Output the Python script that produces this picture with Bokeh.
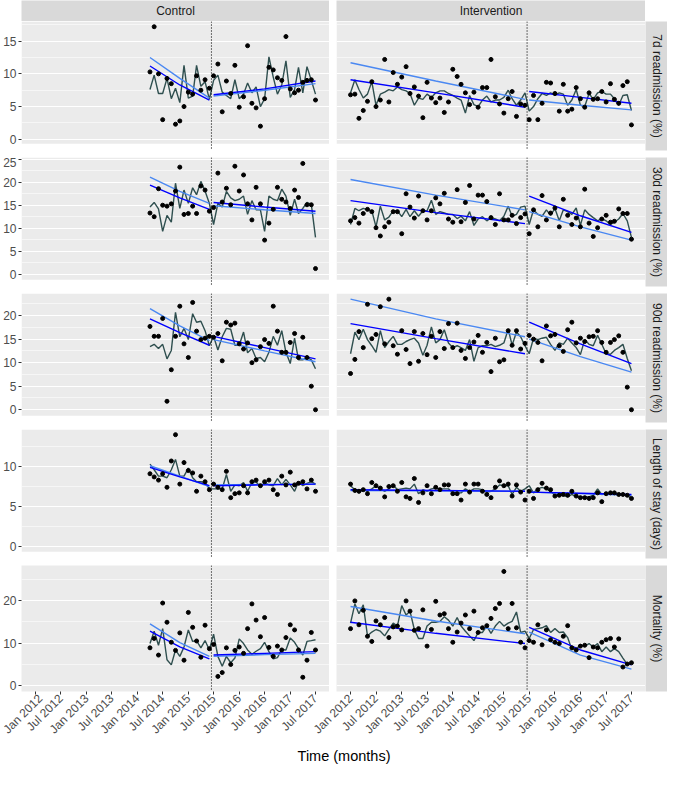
import numpy as np
import pandas as pd
from math import pi
from bokeh.plotting import figure
from bokeh.models import (Range1d, FixedTicker, LinearAxis, DatetimeAxis, GridBox, BoxAnnotation,
                          DatetimeTickFormatter, Grid, Span, ColumnDataSource)
from bokeh.core.properties import value
from bokeh.embed import file_html
from bokeh.resources import INLINE

FONT = "Liberation Sans"

# ---------------- data ----------------
groups = ["Control", "Intervention"]
outcomes = ["7d readmission (%)", "30d readmission (%)", "90d readmission (%)",
            "Length of stay (days)", "Mortality (%)"]
x_tick_labels = ["Jan 2012", "Jul 2012", "Jan 2013", "Jul 2013", "Jan 2014", "Jul 2014",
                 "Jan 2015", "Jul 2015", "Jan 2016", "Jul 2016", "Jan 2017", "Jul 2017"]
x_title = "Time (months)"
intervention_date = "2015-06-16"
ctrl_start, ctrl_end = "2014-04-01", "2017-07-01"
int_start, int_end = "2012-01-01", "2017-07-01"

# observed monthly values (points)
ctrl_obs_7d = [10.3, 17.2, 10.0, 3.0, 9.3, 8.5, 2.3, 2.8, 5.0, 7.2, 6.9, 9.7, 7.5, 9.1, 7.8, 9.7,
               11.5, 4.2, 8.9, 7.0, 11.3, 4.9, 6.5, 14.3, 5.5, 4.8, 2.0, 6.2, 11.0, 10.6, 9.4, 9.0,
               15.7, 7.7, 7.1, 7.5, 8.7, 9.0, 9.1, 6.0]
int_obs_7d = [6.8, 6.9, 3.2, 4.4, 5.8, 8.8, 5.0, 6.0, 12.2, 5.7, 10.2, 8.4, 9.5, 11.1, 7.0, 8.0,
              6.6, 3.3, 8.7, 6.3, 5.6, 6.3, 4.1, 5.7, 10.7, 9.6, 8.4, 7.1, 5.3, 7.2, 4.9, 7.9,
              7.9, 12.2, 6.5, 5.4, 4.0, 6.2, 7.3, 3.5, 5.4, 5.2, 3.0, 6.7, 3.0, 5.5, 8.7, 8.6,
              7.0, 4.3, 8.4, 4.3, 4.6, 7.9, 6.2, 4.9, 7.1, 6.1, 6.2, 7.3, 5.7, 8.5, 6.1, 5.5,
              8.2, 8.8, 2.2]
ctrl_obs_30d = [13.3, 12.5, 18.6, 15.0, 14.8, 15.3, 18.1, 23.3, 13.0, 13.2, 14.8, 13.2, 19.2, 18.3,
                13.7, 14.5, 22.0, 15.7, 18.7, 15.1, 23.5, 18.1, 21.6, 15.3, 11.8, 18.9, 15.3, 7.4,
                11.1, 14.1, 18.9, 16.3, 15.7, 14.3, 18.3, 16.7, 24.1, 15.1, 15.1, 1.2]
int_obs_30d = [11.6, 12.3, 11.1, 13.2, 14.1, 13.6, 10.1, 8.3, 10.3, 11.3, 13.6, 13.6, 8.8, 17.5,
               14.6, 12.2, 17.0, 13.8, 11.8, 13.8, 16.6, 15.3, 17.6, 12.0, 11.3, 18.4, 11.4, 15.6,
               19.3, 12.0, 17.2, 17.2, 15.8, 12.3, 10.8, 17.5, 11.8, 11.8, 12.8, 11.0, 12.3, 13.1,
               8.8, 14.0, 10.3, 17.1, 11.8, 13.3, 14.4, 10.3, 16.3, 12.8, 10.8, 12.2, 10.3, 18.5,
               11.1, 8.2, 10.1, 12.0, 12.8, 11.3, 11.5, 14.2, 13.2, 13.2, 7.6]
ctrl_obs_90d = [17.7, 15.6, 15.6, 19.4, 1.8, 8.5, 15.6, 22.0, 14.0, 11.1, 22.8, 16.7, 14.9, 15.2,
                15.6, 15.4, 16.2, 10.4, 18.6, 18.0, 18.4, 14.0, 12.9, 14.2, 10.0, 10.6, 13.4, 14.9,
                14.1, 22.0, 16.7, 12.2, 12.2, 14.3, 16.2, 11.1, 15.4, 11.1, 5.0, 0.0]
int_obs_90d = [7.7, 10.7, 16.6, 13.2, 22.4, 15.1, 16.0, 21.9, 14.0, 23.5, 13.6, 11.8, 16.8, 12.8,
               9.8, 16.6, 10.3, 16.2, 11.7, 15.6, 11.1, 16.6, 13.0, 18.3, 13.2, 18.4, 12.6, 10.9,
               13.2, 14.4, 15.8, 12.2, 14.3, 8.1, 15.2, 10.2, 10.6, 16.8, 13.7, 16.8, 12.9, 14.1,
               15.8, 15.0, 14.3, 10.4, 17.8, 15.7, 16.0, 13.6, 12.4, 17.0, 18.6, 14.2, 15.2, 14.5,
               15.5, 15.6, 16.8, 14.3, 12.2, 14.3, 14.9, 15.7, 12.2, 4.8, 0.0]
ctrl_obs_los = [9.1, 8.7, 8.3, 9.1, 7.4, 10.7, 14.0, 7.8, 10.5, 9.5, 9.2, 6.9, 8.8, 8.1, 7.1, 7.8,
                7.4, 7.1, 9.4, 6.1, 6.6, 6.7, 7.6, 6.7, 8.1, 8.3, 7.6, 8.1, 8.3, 7.1, 6.5, 8.8,
                7.7, 9.3, 7.7, 7.9, 8.1, 7.2, 8.3, 6.9]
int_obs_los = [7.8, 7.0, 6.9, 7.1, 6.6, 8.0, 7.6, 7.3, 6.2, 7.5, 7.6, 6.9, 8.0, 6.2, 6.0, 8.5,
               5.5, 6.7, 7.6, 6.6, 7.4, 7.1, 7.7, 7.7, 6.6, 6.6, 5.8, 7.8, 6.8, 7.8, 7.8, 6.9,
               6.5, 6.1, 7.4, 8.2, 7.6, 7.8, 6.3, 7.7, 6.8, 5.8, 6.9, 6.0, 7.1, 7.9, 7.3, 7.1,
               6.3, 6.4, 6.5, 6.4, 6.9, 6.3, 6.1, 6.1, 6.0, 6.1, 6.7, 5.6, 6.6, 6.7, 6.7, 6.5,
               6.5, 6.4, 6.0]
ctrl_obs_mort = [8.9, 11.1, 7.2, 19.4, 14.9, 10.2, 8.3, 12.4, 6.0, 17.2, 13.7, 10.5, 6.7, 14.2,
                 8.7, 9.7, 2.2, 3.1, 8.9, 5.0, 8.3, 9.1, 7.6, 13.4, 19.2, 15.4, 11.5, 16.0, 9.0,
                 6.9, 9.3, 8.4, 11.3, 14.3, 13.1, 8.4, 2.0, 6.0, 12.5, 8.4]
int_obs_mort = [13.4, 19.9, 14.3, 17.7, 11.6, 10.4, 15.2, 14.3, 16.0, 11.3, 13.8, 14.0, 13.1, 19.9,
                17.5, 13.0, 13.4, 17.8, 9.3, 13.2, 19.8, 16.6, 16.9, 13.4, 10.2, 12.6, 14.7, 16.6,
                13.4, 17.5, 12.5, 13.6, 14.1, 15.8, 18.1, 19.3, 26.8, 13.4, 19.3, 13.6, 10.2, 8.9,
                10.6, 10.2, 14.3, 9.6, 13.1, 10.8, 10.2, 9.9, 11.6, 14.1, 8.9, 8.4, 9.3, 9.5, 6.6,
                9.1, 8.9, 10.2, 10.8, 11.1, 9.1, 11.0, 4.4, 5.1, 5.4]

# model predicted monthly values (dark line)
ctrl_pred_7d = [7.6, 9.8, 7.0, 7.0, 9.3, 6.2, 7.8, 5.6, 11.3, 6.3, 6.6, 11.3, 8.1, 8.8, 6.1, 9.0,
                9.8, 7.2, 6.7, 6.2, 9.1, 6.2, 6.9, 8.6, 7.1, 8.0, 5.0, 6.2, 12.6, 9.5, 6.9, 8.3,
                12.0, 6.4, 7.6, 11.0, 7.1, 11.1, 9.0, 6.9]
int_pred_7d = [7.1, 9.1, 7.6, 6.3, 6.9, 8.8, 5.2, 6.9, 7.2, 7.6, 7.4, 8.0, 7.6, 7.4, 7.0, 5.2,
               6.3, 6.1, 6.9, 6.4, 7.1, 7.4, 7.4, 7.0, 6.7, 6.3, 6.0, 4.0, 6.7, 5.3, 5.0, 6.0,
               6.6, 5.7, 6.0, 6.0, 6.4, 7.5, 6.2, 5.2, 6.0, 7.1, 4.3, 5.0, 6.2, 7.0, 6.7, 7.1,
               6.7, 7.1, 6.9, 5.2, 6.0, 7.6, 5.2, 5.0, 7.0, 6.1, 7.1, 7.3, 6.9, 6.9, 6.2, 5.2,
               6.7, 6.8, 4.4]
ctrl_pred_30d = [14.6, 15.6, 14.2, 9.3, 12.8, 11.3, 19.8, 14.3, 18.3, 15.4, 18.8, 17.3, 20.2, 18.1,
                 15.4, 10.8, 15.4, 14.6, 18.0, 16.6, 16.0, 16.3, 17.0, 13.0, 16.0, 14.0, 14.0, 9.3,
                 17.0, 16.3, 16.0, 18.5, 17.0, 12.8, 16.3, 13.2, 14.3, 15.6, 15.2, 8.0]
int_pred_30d = [10.8, 14.3, 13.8, 14.3, 14.0, 13.8, 10.3, 14.8, 11.8, 12.4, 13.8, 13.8, 12.5, 14.1,
                12.5, 13.8, 12.6, 13.8, 13.8, 16.1, 13.0, 13.6, 13.3, 13.0, 13.0, 12.1, 12.6, 11.6,
                13.6, 10.6, 12.0, 12.5, 11.6, 12.3, 12.0, 11.6, 12.6, 14.8, 12.6, 13.0, 14.6, 14.8,
                10.8, 14.0, 13.0, 12.6, 14.0, 12.8, 14.3, 11.6, 14.0, 13.6, 13.0, 14.4, 10.6, 14.0,
                13.0, 12.3, 11.6, 12.1, 11.6, 10.8, 11.3, 12.0, 13.2, 11.6, 8.0]
ctrl_pred_90d = [13.4, 13.9, 13.0, 13.9, 10.8, 12.6, 20.7, 15.5, 17.3, 14.9, 20.4, 18.6, 18.8, 16.8,
                 13.6, 15.6, 12.7, 15.5, 17.3, 17.1, 13.7, 13.7, 16.5, 12.1, 13.0, 10.9, 11.1, 10.2,
                 12.2, 15.6, 13.7, 16.8, 12.2, 9.8, 15.2, 10.6, 10.6, 11.1, 10.6, 8.7]
int_pred_90d = [11.9, 16.5, 14.9, 17.1, 14.9, 13.6, 12.2, 16.8, 13.2, 14.5, 15.6, 13.9, 13.9, 14.5,
                14.9, 15.2, 14.2, 11.6, 13.7, 17.6, 14.2, 14.9, 17.0, 14.2, 13.2, 13.6, 13.2, 12.6,
                14.9, 10.3, 13.2, 13.6, 13.6, 13.9, 13.4, 13.7, 14.2, 17.1, 13.7, 16.5, 15.5, 13.6,
                11.9, 15.2, 14.9, 15.2, 15.4, 13.9, 12.6, 14.2, 13.9, 15.2, 14.2, 13.2, 11.7, 14.9,
                13.9, 13.6, 15.8, 13.9, 11.9, 11.8, 12.6, 13.2, 13.9, 10.9, 8.3]
ctrl_pred_los = [10.3, 9.6, 8.8, 8.8, 8.6, 9.6, 10.9, 8.8, 8.8, 9.8, 8.6, 8.1, 8.1, 8.0, 7.2, 7.2,
                 7.2, 7.2, 9.0, 6.9, 7.7, 7.6, 8.0, 6.9, 8.0, 8.1, 7.4, 8.0, 7.7, 7.6, 8.5, 7.7,
                 8.4, 7.7, 6.9, 8.1, 7.6, 7.9, 8.1, 7.8]
int_pred_los = [7.6, 7.1, 6.7, 7.2, 6.9, 7.2, 7.6, 7.2, 6.9, 7.2, 7.7, 7.1, 7.2, 7.3, 7.2, 7.8,
                6.6, 7.1, 6.9, 7.2, 7.3, 7.2, 7.2, 7.2, 6.7, 6.7, 6.7, 7.2, 6.9, 7.2, 7.2, 7.1,
                6.8, 6.9, 7.2, 7.7, 7.6, 7.6, 6.5, 7.4, 6.9, 7.2, 7.6, 6.7, 7.2, 7.4, 7.2, 6.9,
                6.4, 6.4, 6.4, 6.2, 6.5, 6.2, 6.2, 6.2, 6.2, 6.4, 7.2, 6.5, 6.6, 6.6, 6.6, 6.5,
                6.5, 6.3, 6.1]
ctrl_pred_mort = [9.9, 12.8, 9.5, 13.4, 6.1, 4.9, 8.4, 6.9, 9.1, 13.1, 10.4, 10.6, 8.9, 10.6, 8.4,
                  12.1, 6.9, 4.6, 6.9, 5.4, 6.5, 11.0, 9.9, 8.4, 7.4, 8.1, 8.7, 10.2, 8.0, 6.3, 6.6,
                  8.5, 8.4, 11.2, 10.2, 8.7, 7.2, 10.4, 10.6, 10.8]
int_pred_mort = [14.7, 19.2, 16.9, 19.0, 11.7, 12.6, 13.2, 12.8, 11.7, 13.2, 14.7, 14.0, 18.8, 16.6,
                 17.5, 13.2, 11.1, 11.1, 14.0, 14.9, 14.9, 15.1, 16.2, 15.4, 14.0, 16.0, 14.0, 12.8,
                 11.7, 10.6, 12.5, 12.5, 14.0, 12.3, 14.0, 15.1, 14.0, 14.7, 15.1, 17.3, 12.5, 12.8,
                 11.1, 13.2, 13.4, 13.6, 14.1, 12.5, 13.4, 12.5, 12.6, 11.3, 8.5, 8.7, 9.5, 9.3, 9.9,
                 9.1, 9.9, 8.0, 9.1, 8.0, 8.7, 8.0, 6.5, 5.0, 5.4]

# segmented-regression fits (blue) and comparison fits (light blue), read at start/mid/end
fit_ctrl_pre_dates = ["2014-04-01", "2014-11-01", "2015-06-01"]
fit_ctrl_post_dates = ["2015-07-01", "2016-07-01", "2017-07-01"]
fit_int_pre_dates = ["2012-01-01", "2013-09-01", "2015-06-01"]
fit_int_post_dates = ["2015-07-01", "2016-07-01", "2017-07-01"]

blue_ctrl_pre = [[11.2, 8.3, 6.0], [19.4, 16.6, 14.1], [19.3, 16.4, 13.7], [9.9, 8.7, 7.6], [12.8, 9.1, 6.3]]
blue_ctrl_post = [[6.8, 7.7, 8.9], [15.6, 14.6, 13.7], [15.6, 13.2, 10.8], [7.6, 7.7, 7.8], [7.2, 7.6, 8.0]]
lblue_ctrl_pre = [[12.5, 9.3, 6.3], [21.1, 18.0, 15.4], [21.5, 17.8, 14.7], [10.1, 8.8, 7.5], [14.5, 10.1, 6.9]]
lblue_ctrl_post = [[6.6, 7.5, 8.5], [14.9, 14.0, 13.2], [14.9, 12.5, 10.2], [7.7, 7.75, 7.8], [6.9, 7.3, 7.6]]
blue_int_pre = [[9.1, 7.1, 4.9], [16.0, 13.4, 11.0], [18.3, 15.1, 11.9], [7.1, 7.0, 6.9], [14.9, 12.3, 9.9]]
blue_int_post = [[7.3, 6.4, 5.5], [17.0, 12.7, 9.1], [18.6, 14.0, 9.8], [6.8, 6.65, 6.5], [13.7, 8.4, 4.9]]
lblue_int_pre = [[11.7, 8.9, 6.1], [20.6, 17.2, 14.0], [23.5, 19.3, 15.5], [7.0, 6.95, 6.9], [18.6, 15.2, 12.2]]
lblue_int_post = [[6.0, 5.2, 4.5], [13.6, 10.3, 7.4], [15.0, 11.3, 8.0], [6.8, 6.6, 6.4], [12.6, 7.2, 3.9]]

y_ranges = [(-0.7, 18.0), (-1.26, 25.4), (-1.3, 24.7), (-0.7, 14.65), (-1.34, 28.2)]
y_major = [[0, 5, 10, 15], [0, 5, 10, 15, 20, 25], [0, 5, 10, 15, 20], [0, 5, 10], [0, 10, 20]]
y_minor = [[2.5, 7.5, 12.5, 17.5], [2.5, 7.5, 12.5, 17.5, 22.5], [2.5, 7.5, 12.5, 17.5, 22.5],
           [2.5, 7.5, 12.5], [5, 15, 25]]

ctrl_obs = [ctrl_obs_7d, ctrl_obs_30d, ctrl_obs_90d, ctrl_obs_los, ctrl_obs_mort]
int_obs = [int_obs_7d, int_obs_30d, int_obs_90d, int_obs_los, int_obs_mort]
ctrl_pred = [ctrl_pred_7d, ctrl_pred_30d, ctrl_pred_90d, ctrl_pred_los, ctrl_pred_mort]
int_pred = [int_pred_7d, int_pred_30d, int_pred_90d, int_pred_los, int_pred_mort]

# ---------------- styling / layout ----------------
PANEL_BG = "#EBEBEB"
STRIP_BG = "#D9D9D9"
DARK = "#2F4F4F"
BLUE = "#0000FF"
LBLUE = "#4A88F2"

AXW = 21        # left axis space
PW_L, PW_R = 308, 309
GAP = 7
OV = 44         # overlap so right panel's first x label can extend leftwards
STRIP_W = 22
STRIP_H = 21
PH = 129
XAX_H = 50
TITLE_H = 22

ctrl_dates = pd.date_range(ctrl_start, ctrl_end, freq="MS")
int_dates = pd.date_range(int_start, int_end, freq="MS")
x0 = pd.Timestamp(int_start)
x1 = pd.Timestamp(int_end)
pad = (x1 - x0) * 0.05
xr_start = (x0 - pad).value / 1e6
xr_end = (x1 + pad).value / 1e6
tick_ms = [t.value / 1e6 for t in pd.to_datetime(x_tick_labels, format="%b %Y")]
vline_ms = pd.Timestamp(intervention_date).value / 1e6


def base_fig(width, height, xr, yr, bl, bb, bg, transparent=False):
    p = figure(width=width, height=height, x_range=xr, y_range=yr,
               x_axis_location=None, y_axis_location=None, tools="",
               toolbar_location=None, output_backend="svg",
               min_border_left=bl, min_border_right=0, min_border_top=0,
               min_border_bottom=bb, background_fill_color=bg,
               border_fill_color="white", outline_line_color=None)
    if transparent:
        p.border_fill_alpha = 0
    p.xgrid.visible = False
    p.ygrid.visible = False
    return p


def strip_fig(width, height, label, bl, bb, angle):
    p = base_fig(width, height, Range1d(0, 1), Range1d(0, 1), bl, bb, STRIP_BG)
    src = ColumnDataSource(dict(x=[0.5], y=[0.5], t=[label]))
    p.text(x="x", y="y", text="t", source=src, angle=angle, text_align="center",
           text_baseline="middle", text_font=value(FONT), text_font_size="12px",
           text_color="#1A1A1A")
    return p


def panel(r, c):
    last = (r == len(outcomes) - 1)
    lo, hi = y_ranges[r]
    height = PH + (XAX_H if last else GAP)
    transparent = False
    if c == 0:
        width, bl = AXW + PW_L, AXW
    elif last:
        width, bl = OV + GAP + PW_R, OV + GAP
        transparent = True
    else:
        width, bl = GAP + PW_R, GAP
    if last:
        p = base_fig(width, height, Range1d(xr_start, xr_end), Range1d(lo, hi), bl, XAX_H,
                     PANEL_BG, transparent)
    else:
        # frame reaches into the gap below so the dotted line runs through it
        lo_ext = lo - GAP * (hi - lo) / PH
        p = base_fig(width, height, Range1d(xr_start, xr_end), Range1d(lo_ext, hi), bl, 0,
                     "white", transparent)
        p.add_layout(BoxAnnotation(bottom=lo, top=hi, fill_color=PANEL_BG, fill_alpha=1,
                                   line_color=None, level="image"))
    p.add_layout(Grid(dimension=1, ticker=FixedTicker(ticks=y_major[r], minor_ticks=y_minor[r]),
                      grid_line_color="white", grid_line_width=1.1,
                      minor_grid_line_color="white", minor_grid_line_width=0.55))
    if c == 0:
        ax = LinearAxis(ticker=FixedTicker(ticks=y_major[r]))
        ax.axis_line_color = None
        ax.major_tick_line_color = "#333333"
        ax.major_tick_out = 3
        ax.major_tick_in = 0
        ax.minor_tick_line_color = None
        ax.major_label_standoff = 2
        ax.major_label_text_font = FONT
        ax.major_label_text_font_size = "12px"
        ax.major_label_text_color = "#4D4D4D"
        p.add_layout(ax, "left")
    if last:
        xa = DatetimeAxis(ticker=FixedTicker(ticks=tick_ms))
        fmt = "%b %Y"
        xa.formatter = DatetimeTickFormatter(microseconds=fmt, milliseconds=fmt, seconds=fmt,
                                             minsec=fmt, minutes=fmt, hourmin=fmt, hours=fmt,
                                             days=fmt, months=fmt, years=fmt)
        xa.axis_line_color = None
        xa.major_tick_line_color = "#333333"
        xa.major_tick_out = 3
        xa.major_tick_in = 0
        xa.minor_tick_line_color = None
        xa.major_label_standoff = 2
        xa.major_label_orientation = pi / 4
        xa.major_label_text_font = FONT
        xa.major_label_text_font_size = "12px"
        xa.major_label_text_color = "#4D4D4D"
        p.add_layout(xa, "below")

    if c == 0:
        dates, obs, pred = ctrl_dates, ctrl_obs[r], ctrl_pred[r]
        pre_d, post_d = fit_ctrl_pre_dates, fit_ctrl_post_dates
        bpre, bpost = blue_ctrl_pre[r], blue_ctrl_post[r]
        lpre, lpost = lblue_ctrl_pre[r], lblue_ctrl_post[r]
    else:
        dates, obs, pred = int_dates, int_obs[r], int_pred[r]
        pre_d, post_d = fit_int_pre_dates, fit_int_post_dates
        bpre, bpost = blue_int_pre[r], blue_int_post[r]
        lpre, lpost = lblue_int_pre[r], lblue_int_post[r]

    p.add_layout(Span(location=vline_ms, dimension="height", line_color="black",
                      line_width=1.1, line_dash="1 2"))
    p.line(dates, pred, line_color=DARK, line_width=1.4)
    pre_x = pd.to_datetime(pre_d)
    post_x = pd.to_datetime(post_d)
    p.line(pre_x, lpre, line_color=LBLUE, line_width=1.4)
    p.line(post_x, lpost, line_color=LBLUE, line_width=1.4)
    p.line(pre_x, bpre, line_color=BLUE, line_width=1.4)
    p.line(post_x, bpost, line_color=BLUE, line_width=1.4)
    p.scatter(dates, obs, size=4, color="black")
    return p


# grid columns: [left part, overlap, right panel, strip]
col_sizes = [AXW + PW_L - OV, OV, GAP + PW_R, STRIP_W]
children = []
children.append((strip_fig(AXW + PW_L, STRIP_H, groups[0], AXW, 0, 0), 0, 0, 1, 2))
children.append((strip_fig(GAP + PW_R, STRIP_H, groups[1], GAP, 0, 0), 0, 2, 1, 1))
row_sizes = [STRIP_H]
for r in range(len(outcomes)):
    last = (r == len(outcomes) - 1)
    bb = XAX_H if last else GAP
    row_sizes.append(PH + bb)
    children.append((panel(r, 0), r + 1, 0, 1, 2))
    if last:
        children.append((panel(r, 1), r + 1, 1, 1, 2))
    else:
        children.append((panel(r, 1), r + 1, 2, 1, 1))
    children.append((strip_fig(STRIP_W, PH + bb, outcomes[r], 0, bb, -pi / 2), r + 1, 3, 1, 1))

total_w = sum(col_sizes)
tf = base_fig(total_w, TITLE_H, Range1d(0, total_w), Range1d(0, 1), 0, 0, "white")
center_x = (AXW + AXW + PW_L + GAP + PW_R) / 2
tf.text(x=[center_x], y=[0.5], text=[x_title], text_align="center", text_baseline="middle",
        text_font=value(FONT), text_font_size="14.5px", text_color="black")
children.append((tf, len(outcomes) + 1, 0, 1, 4))
row_sizes.append(TITLE_H)

layout = GridBox(children=children, cols=[f"{s}px" for s in col_sizes],
                 rows=[f"{s}px" for s in row_sizes], spacing=0)
open("out.html", "w").write(file_html(layout, INLINE))
